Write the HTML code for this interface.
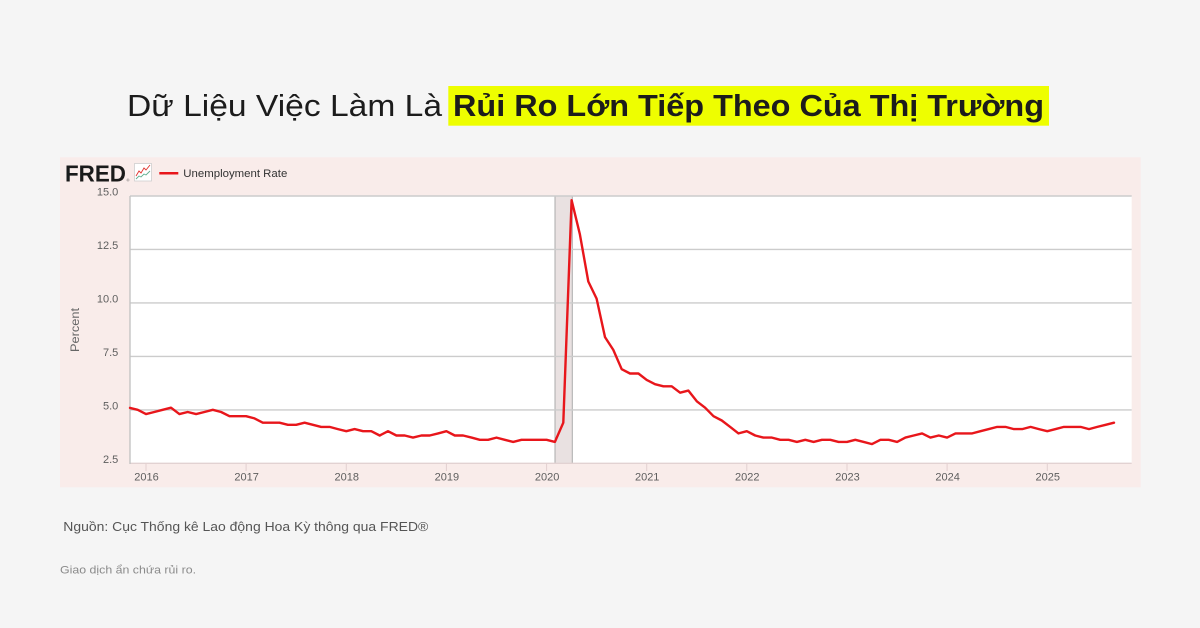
<!DOCTYPE html>
<html>
<head>
<meta charset="utf-8">
<style>
html,body{margin:0;padding:0;background:#f5f5f5;}
svg{display:block;}
text{font-family:"Liberation Sans","DejaVu Sans",sans-serif;}
</style>
</head>
<body>
<svg width="1200" height="628" viewBox="0 0 1200 628" xmlns="http://www.w3.org/2000/svg">
  <rect x="0" y="0" width="1200" height="628" fill="#f5f5f5"/>

  <!-- Title -->
  <text x="127" y="116" font-size="31" fill="#1c1c1c" textLength="315" lengthAdjust="spacingAndGlyphs">Dữ Liệu Việc Làm Là</text>
  <rect x="448.3" y="86" width="600.7" height="39.7" fill="#eefe00"/>
  <text x="453" y="116" font-size="31" font-weight="bold" fill="#1c1c1c" textLength="591" lengthAdjust="spacingAndGlyphs">Rủi Ro Lớn Tiếp Theo Của Thị Trường</text>

  <!-- Chart background -->
  <rect x="60" y="157.3" width="1080.7" height="330" fill="#f9ecea"/>

  <!-- FRED logo -->
  <text x="65" y="181.7" font-size="23" font-weight="bold" fill="#1a1a1a" textLength="61" lengthAdjust="spacingAndGlyphs">FRED</text>
  <text x="126.5" y="181.5" font-size="4" fill="#555">®</text>
  <rect x="134.5" y="163.5" width="17" height="17.5" fill="#ffffff" stroke="#cfcfcf" stroke-width="0.8"/>
  <polyline points="136,176 139,171 141,173 144,168 146,170 150,165" fill="none" stroke="#e0332f" stroke-width="0.9"/>
  <polyline points="136,179 139,176 141,177 144,174 146,175 150,171" fill="none" stroke="#5fae8f" stroke-width="0.9"/>

  <!-- Legend -->
  <line x1="159.3" y1="173.3" x2="178.3" y2="173.3" stroke="#e8161b" stroke-width="2.5"/>
  <text x="183.3" y="177" font-size="11" fill="#333" textLength="104" lengthAdjust="spacingAndGlyphs">Unemployment Rate</text>

  <!-- Plot area -->
  <rect x="130" y="196" width="1001.7" height="267.3" fill="#ffffff"/>

  <!-- Recession shading -->
  <rect x="555" y="196" width="17.3" height="267.3" fill="#e9e1e1"/>
  <line x1="555" y1="196" x2="555" y2="463.3" stroke="#ababab" stroke-width="1"/>
  <line x1="572.3" y1="196" x2="572.3" y2="463.3" stroke="#ababab" stroke-width="1"/>

  <!-- Grid lines -->
  <g stroke="#cccccc" stroke-width="1.4">
    <line x1="130" y1="196" x2="1131.7" y2="196"/>
    <line x1="130" y1="249.4" x2="1131.7" y2="249.4"/>
    <line x1="130" y1="302.9" x2="1131.7" y2="302.9"/>
    <line x1="130" y1="356.4" x2="1131.7" y2="356.4"/>
    <line x1="130" y1="409.9" x2="1131.7" y2="409.9"/>
  </g>
  <!-- Axes -->
  <line x1="130" y1="463.3" x2="1131.7" y2="463.3" stroke="#e2d2d2" stroke-width="1.4"/>
  <line x1="130" y1="196" x2="130" y2="464" stroke="#c4c4c4" stroke-width="1.4"/>

  <!-- X ticks -->
  <g stroke="#e2d0d0" stroke-width="1">
    <line x1="146" y1="463.3" x2="146" y2="471"/>
    <line x1="246.1" y1="463.3" x2="246.1" y2="471"/>
    <line x1="346.3" y1="463.3" x2="346.3" y2="471"/>
    <line x1="446.4" y1="463.3" x2="446.4" y2="471"/>
    <line x1="546.6" y1="463.3" x2="546.6" y2="471"/>
    <line x1="646.7" y1="463.3" x2="646.7" y2="471"/>
    <line x1="746.8" y1="463.3" x2="746.8" y2="471"/>
    <line x1="847" y1="463.3" x2="847" y2="471"/>
    <line x1="947.1" y1="463.3" x2="947.1" y2="471"/>
    <line x1="1047.3" y1="463.3" x2="1047.3" y2="471"/>
  </g>

  <!-- Y labels -->
  <g font-size="11" fill="#5e5e5e" text-anchor="end">
    <text x="118.3" y="195.5">15.0</text>
    <text x="118.3" y="249">12.5</text>
    <text x="118.3" y="302.5">10.0</text>
    <text x="118.3" y="356">7.5</text>
    <text x="118.3" y="409.5">5.0</text>
    <text x="118.3" y="463">2.5</text>
  </g>
  <text transform="translate(79,330) rotate(-90)" font-size="12" fill="#666" text-anchor="middle" textLength="44" lengthAdjust="spacingAndGlyphs">Percent</text>

  <!-- X labels -->
  <g font-size="11" fill="#5e5e5e" text-anchor="middle">
    <text x="146.5" y="480.7">2016</text>
    <text x="246.6" y="480.7">2017</text>
    <text x="346.8" y="480.7">2018</text>
    <text x="446.9" y="480.7">2019</text>
    <text x="547.1" y="480.7">2020</text>
    <text x="647.2" y="480.7">2021</text>
    <text x="747.3" y="480.7">2022</text>
    <text x="847.5" y="480.7">2023</text>
    <text x="947.6" y="480.7">2024</text>
    <text x="1047.8" y="480.7">2025</text>
  </g>

  <!-- Data line -->
  <polyline fill="none" stroke="#e8161b" stroke-width="2.4" stroke-linejoin="round" stroke-linecap="round" points="
130,407.9 137.7,409.8 146.0,414.1 154.3,412.0 162.7,409.8 171.0,407.7 179.4,414.1 187.7,412.0 196.1,414.1 204.4,412.0 212.8,409.8 221.1,412.0 229.5,416.2 237.8,416.2
246.1,416.2 254.5,418.4 262.8,422.7 271.2,422.7 279.5,422.7 287.9,424.8 296.2,424.8 304.6,422.7 312.9,424.8 321.2,426.9 329.6,426.9 337.9,429.1
346.3,431.2 354.6,429.1 363.0,431.2 371.3,431.2 379.7,435.5 388.0,431.2 396.4,435.5 404.7,435.5 413.0,437.6 421.4,435.5 429.7,435.5 438.1,433.4
446.4,431.2 454.8,435.5 463.1,435.5 471.5,437.6 479.8,439.8 488.1,439.8 496.5,437.6 504.8,439.8 513.2,441.9 521.5,439.8 529.9,439.8 538.2,439.8
546.6,439.8 554.9,441.9 563.3,422.7 571.6,200.2 579.9,234.4 588.3,281.5 596.6,298.6 605.0,337.1 613.3,349.9 621.7,369.2 630.0,373.5 638.4,373.5
646.7,379.9 655.0,384.2 663.4,386.3 671.7,386.3 680.1,392.7 688.4,390.6 696.8,401.3 705.1,407.7 713.5,416.2 721.8,420.5 730.2,426.9 738.5,433.4
746.8,431.2 755.2,435.5 763.5,437.6 771.9,437.6 780.2,439.8 788.6,439.8 796.9,441.9 805.3,439.8 813.6,441.9 821.9,439.8 830.3,439.8 838.6,441.9
847.0,441.9 855.3,439.8 863.7,441.9 872.0,444.1 880.4,439.8 888.7,439.8 897.1,441.9 905.4,437.6 913.7,435.5 922.1,433.4 930.4,437.6 938.8,435.5
947.1,437.6 955.5,433.4 963.8,433.4 972.2,433.4 980.5,431.2 988.8,429.1 997.2,426.9 1005.5,426.9 1013.9,429.1 1022.2,429.1 1030.6,426.9 1038.9,429.1
1047.3,431.2 1055.6,429.1 1063.9,426.9 1072.3,426.9 1080.6,426.9 1089.0,429.1 1097.3,426.9 1105.7,424.8 1114.0,422.7"/>

  <!-- Footer -->
  <text x="63.3" y="531" font-size="13" fill="#555" textLength="365" lengthAdjust="spacingAndGlyphs">Nguồn: Cục Thống kê Lao động Hoa Kỳ thông qua FRED®</text>
  <text x="60" y="573.5" font-size="11" fill="#8a8a8a" textLength="136" lengthAdjust="spacingAndGlyphs">Giao dịch ẩn chứa rủi ro.</text>
</svg>
</body>
</html>
